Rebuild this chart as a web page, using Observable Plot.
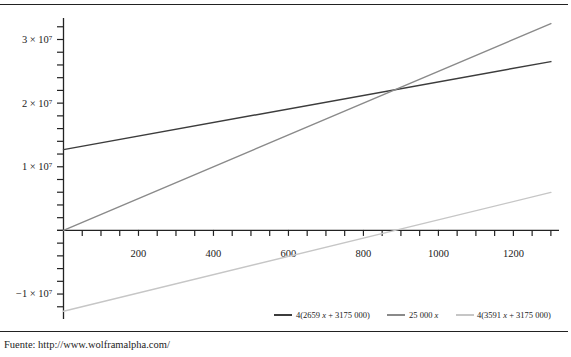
<!DOCTYPE html>
<html><head><meta charset="utf-8">
<script src="https://cdn.jsdelivr.net/npm/d3@7"></script>
<script src="https://cdn.jsdelivr.net/npm/@observablehq/plot@0.6"></script>
<style>
body{margin:0;background:#fff;font-family:"Liberation Serif","DejaVu Serif",serif;color:#222;}
#wrap{position:relative;width:571px;height:357px;overflow:hidden;}
#chart{position:absolute;left:0;top:0;}
.hrule{position:absolute;left:0;width:568px;height:0;border-top:1.4px solid #222;}
.leg{position:absolute;font-size:8.5px;white-space:nowrap;line-height:10px;}
.sw{position:absolute;height:0;border-top:2px solid;}
#cap{position:absolute;left:4px;top:339px;font-size:10.5px;white-space:nowrap;}
</style></head>
<body>
<div id="wrap">
  <div id="chart"></div>
  <div class="hrule" style="top:4px"></div>
  <div class="hrule" style="top:331px"></div>
  <div id="legend"></div>
  <div id="cap">Fuente: http://www.wolframalpha.com/</div>
</div>
<script>
// ---- data ----
const xValues = [0, 1300];
const seriesNames = ["4(2659 x + 3175 000)", "25 000 x", "4(3591 x + 3175 000)"];
const seriesDark = [12.7e6, 26.53e6];
const seriesMid = [0, 32.5e6];
const seriesLight = [-12.7e6, 5.97e6];
const xLabelTicks = [200, 400, 600, 800, 1000, 1200];
const yLabelTicks = [-1e7, 1e7, 2e7, 3e7];
const yTickLabels = ["−1 × 10⁷", "1 × 10⁷", "2 × 10⁷", "3 × 10⁷"];

// ---- build ----
const seriesValues = [seriesDark, seriesMid, seriesLight];
const colors = ["#3c3c3c", "#8a8a8a", "#c6c6c6"];
const rows = seriesNames.flatMap((name, i) => xValues.map((x, j) => ({name, x, y: seriesValues[i][j]})));
const colorMap = new Map(seriesNames.map((n, i) => [n, colors[i]]));
const yLabelMap = new Map(yLabelTicks.map((t, i) => [t, yTickLabels[i]]));

const W = 571, H = 335, mT = 18, mB = 16, mL = 57, mR = 12;
const yDom = [-1.40e7, 3.33e7], xDom = [-16, 1323];
const y0px = mT + (yDom[1] - 0) / (yDom[1] - yDom[0]) * (H - mT - mB);
const dyX = y0px - (H - mB);

const font = '"Liberation Serif","DejaVu Serif",serif';
const chart = Plot.plot({
  width: W, height: H,
  marginTop: mT, marginBottom: mB, marginLeft: mL, marginRight: mR,
  x: {domain: xDom, label: null},
  y: {domain: yDom, label: null},
  style: {fontFamily: font, fontSize: "10.5px", color: "#222", background: "transparent"},
  marks: [
    Plot.ruleX([0], {stroke: "#222", strokeWidth: 1.3}),
    Plot.ruleY([0], {stroke: "#222", strokeWidth: 1.3}),
    Plot.axisY({anchor: "left", ticks: d3.range(-12e6, 33e6, 2e6), tickFormat: () => "", tickSize: 6, dx: 6, strokeWidth: 1.2}),
    Plot.axisY({anchor: "left", ticks: yLabelTicks, tickFormat: d => yLabelMap.get(d), tickSize: 0, tickPadding: 11, dx: 6}),
    Plot.axisX({anchor: "bottom", ticks: d3.range(50, 1301, 50), tickFormat: () => "", tickSize: 6, dy: dyX, strokeWidth: 1.2}),
    Plot.axisX({anchor: "bottom", ticks: xLabelTicks, tickFormat: d3.format("d"), tickSize: 0, tickPadding: 19, dy: dyX}),
    Plot.line(rows, {x: "x", y: "y", z: "name", stroke: d => colorMap.get(d.name), strokeWidth: 1.4})
  ]
});
document.getElementById("chart").appendChild(chart);

// legend
const legPos = [{sw: 274, tx: 296}, {sw: 387, tx: 409}, {sw: 456, tx: 477}];
const leg = document.getElementById("legend");
seriesNames.forEach((n, i) => {
  const s = document.createElement("div");
  s.className = "sw";
  s.style.cssText = `left:${legPos[i].sw}px;top:314px;width:18px;border-top-color:${colors[i]}`;
  leg.appendChild(s);
  const t = document.createElement("div");
  t.className = "leg";
  t.style.left = legPos[i].tx + "px";
  t.style.top = "310px";
  t.innerHTML = n.replace(/ x/, " <i>x</i>");
  leg.appendChild(t);
});
</script>
</body></html>
